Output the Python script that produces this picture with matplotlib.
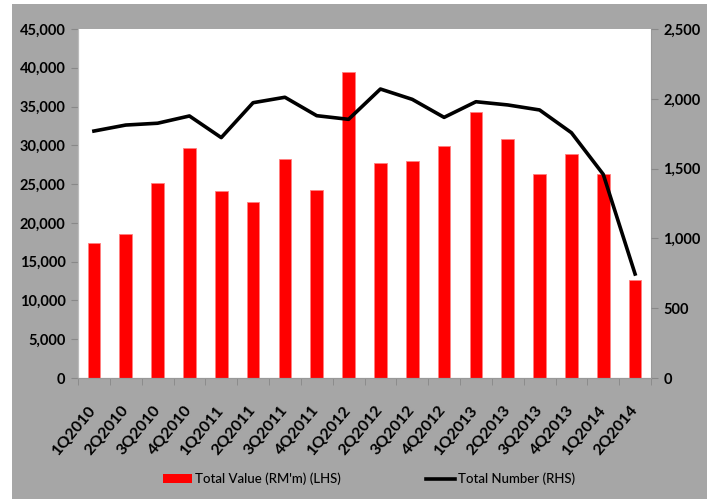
import numpy as np
import matplotlib.pyplot as plt
from matplotlib.patches import Rectangle
from matplotlib.lines import Line2D
from matplotlib.ticker import FuncFormatter

quarters = ["1Q2010", "2Q2010", "3Q2010", "4Q2010", "1Q2011", "2Q2011",
            "3Q2011", "4Q2011", "1Q2012", "2Q2012", "3Q2012", "4Q2012",
            "1Q2013", "2Q2013", "3Q2013", "4Q2013", "1Q2014", "2Q2014"]
total_value = [17400, 18600, 25200, 29600, 24150, 22700, 28200, 24250, 39400,
               27700, 28000, 29950, 34300, 30800, 26250, 28900, 26250, 12700]
total_number = [1769, 1812, 1825, 1877, 1722, 1972, 2011, 1879, 1853,
                2070, 1996, 1867, 1979, 1956, 1920, 1757, 1459, 745]

plt.rcParams['font.family'] = ['Lato', 'DejaVu Sans']
plt.rcParams['font.weight'] = 'bold'

W, H = 715, 499
fig = plt.figure(figsize=(W / 100, H / 100), dpi=100)
fig.patch.set_facecolor("white")
# gray chart frame behind everything
fig.patches.append(Rectangle((12 / W, 0), (707 - 12) / W, (H - 4) / H,
                             transform=fig.transFigure, facecolor="#a6a6a6",
                             edgecolor="none", zorder=-5))

ax = fig.add_axes([78 / W, 1 - 378 / H, (651 - 78) / W, (378 - 29) / H])
ax.set_facecolor("white")
x = np.arange(len(quarters))
ax.bar(x, total_value, width=0.4, color="#ff0000", edgecolor="#ff8080",
       linewidth=0.6, zorder=2)
ax.set_xlim(-0.5, len(quarters) - 0.5)
ax.set_ylim(0, 45000)
ax.set_yticks(np.arange(0, 45001, 5000))
ax.yaxis.set_major_formatter(FuncFormatter(lambda v, p: f"{int(v):,}"))
ax.set_xticks(x)
ax.set_xticklabels(quarters, rotation=50, ha="right", va="center",
                   rotation_mode="anchor")
ax.set_xticks(np.arange(-0.5, len(quarters), 1), minor=True)
ax.tick_params(axis="x", which="major", length=0, pad=21, labelsize=11.5)
ax.tick_params(axis="x", which="minor", length=5, color="#888888")
ax.tick_params(axis="y", length=5, color="#888888", labelsize=10.5, pad=4)

ax2 = ax.twinx()
ax2.plot(x, total_number, color="black", linewidth=2.6, zorder=3)
ax2.set_ylim(0, 2500)
ax2.set_yticks(np.arange(0, 2501, 500))
ax2.yaxis.set_major_formatter(FuncFormatter(lambda v, p: f"{int(v):,}"))
ax2.tick_params(axis="y", length=5, color="#888888", labelsize=10.5, pad=4)

for a in (ax, ax2):
    a.spines["top"].set_visible(False)
    a.spines["right"].set_color("#999999")
    a.spines["left"].set_color("#bbbbbb")
    a.spines["bottom"].set_color("#999999")
ax2.spines["right"].set_visible(False)

# two single-entry legends so each sits where it belongs
leg_y = 1 - 479 / H
leg_kw = dict(loc="center left", frameon=False, borderpad=0, borderaxespad=0,
              handletextpad=0.25,
              prop=dict(family=['Lato', 'DejaVu Sans'], weight="medium",
                        size=9.5))
fig.legend([Rectangle((0, 0), 1, 1, facecolor="#ff0000", edgecolor="none")],
           ["Total Value (RM'm) (LHS)"], handlelength=2.2,
           bbox_to_anchor=(163 / W, leg_y), **leg_kw)
fig.legend([Line2D([0], [0], color="black", linewidth=2.6)],
           ["Total Number (RHS)"], handlelength=2.2,
           bbox_to_anchor=(426 / W, leg_y), **leg_kw)

fig.savefig("out.png", dpi=100)
